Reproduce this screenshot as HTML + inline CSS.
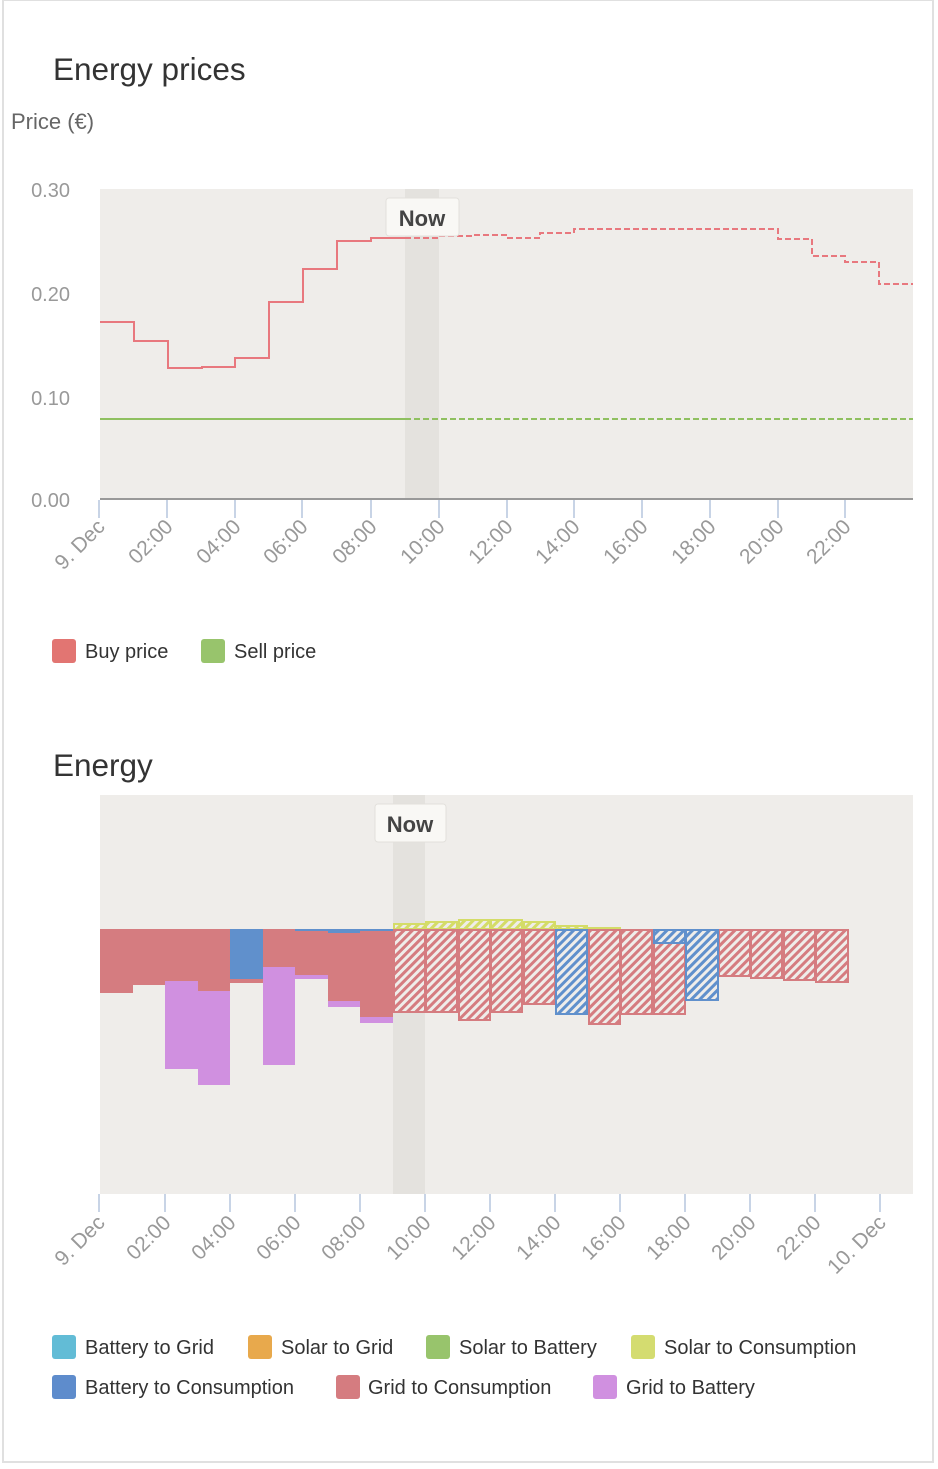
<!DOCTYPE html>
<html><head><meta charset="utf-8"><style>
body{margin:0;background:#fff;}
svg text{font-family:"Liberation Sans",sans-serif;}
</style></head><body>
<svg width="938" height="1464" viewBox="0 0 938 1464" xmlns="http://www.w3.org/2000/svg">
<defs>
<pattern id="hr" width="6" height="6" patternUnits="userSpaceOnUse" patternTransform="rotate(45)">
<rect width="6" height="6" fill="#efedea"/><rect width="3" height="6" fill="#d57c80"/></pattern>
<pattern id="hb" width="6" height="6" patternUnits="userSpaceOnUse" patternTransform="rotate(45)">
<rect width="6" height="6" fill="#efedea"/><rect width="3" height="6" fill="#6090cc"/></pattern>
<pattern id="hy" width="6" height="6" patternUnits="userSpaceOnUse" patternTransform="rotate(45)">
<rect width="6" height="6" fill="#efedea"/><rect width="3" height="6" fill="#d4dc68"/></pattern>
</defs>
<rect x="3" y="0" width="930" height="1462" fill="#fff" stroke="#e0e0e0" stroke-width="2"/>
<text x="53" y="80" font-size="31.5" fill="#333">Energy prices</text>
<text x="11" y="129" font-size="22" fill="#666">Price (€)</text>
<rect x="100" y="189" width="813" height="310" fill="#efedea"/>
<rect x="405" y="189" width="34" height="310" fill="#e4e2de"/>
<g font-size="20" fill="#999" text-anchor="end">
<text x="70" y="197">0.30</text><text x="70" y="301">0.20</text><text x="70" y="405">0.10</text><text x="70" y="507">0.00</text></g>
<line x1="100" y1="419" x2="405" y2="419" stroke="#8fc060" stroke-width="2"/>
<line x1="405" y1="419" x2="913" y2="419" stroke="#8fc060" stroke-width="2" stroke-dasharray="6,3"/>
<path d="M100,322 H134 V341 H168 V368 H202 V367 H235 V358 H269 V302 H303 V269 H337 V241 H371 V238 H405" fill="none" stroke="#e8787e" stroke-width="2"/>
<path d="M405,238 H439 V236 H473 V235 H507 V238 H540 V233 H574 V229 H778 V239 H812 V256 H845 V262 H879 V284 H913" fill="none" stroke="#e8787e" stroke-width="2" stroke-dasharray="6,3"/>
<line x1="100" y1="499" x2="913" y2="499" stroke="#999" stroke-width="2"/>
<g stroke="#c8d4e6" stroke-width="2">
<line x1="99" y1="500" x2="99" y2="518"/><line x1="167" y1="500" x2="167" y2="518"/><line x1="235" y1="500" x2="235" y2="518"/><line x1="302" y1="500" x2="302" y2="518"/><line x1="371" y1="500" x2="371" y2="518"/><line x1="439" y1="500" x2="439" y2="518"/><line x1="507" y1="500" x2="507" y2="518"/><line x1="574" y1="500" x2="574" y2="518"/><line x1="642" y1="500" x2="642" y2="518"/><line x1="710" y1="500" x2="710" y2="518"/><line x1="778" y1="500" x2="778" y2="518"/><line x1="845" y1="500" x2="845" y2="518"/></g>
<g font-size="21" fill="#999" text-anchor="end">
<text transform="translate(106,528) rotate(-45)">9. Dec</text>
<text transform="translate(174,528) rotate(-45)">02:00</text>
<text transform="translate(242,528) rotate(-45)">04:00</text>
<text transform="translate(309,528) rotate(-45)">06:00</text>
<text transform="translate(378,528) rotate(-45)">08:00</text>
<text transform="translate(446,528) rotate(-45)">10:00</text>
<text transform="translate(514,528) rotate(-45)">12:00</text>
<text transform="translate(581,528) rotate(-45)">14:00</text>
<text transform="translate(649,528) rotate(-45)">16:00</text>
<text transform="translate(717,528) rotate(-45)">18:00</text>
<text transform="translate(785,528) rotate(-45)">20:00</text>
<text transform="translate(852,528) rotate(-45)">22:00</text></g>
<rect x="386" y="198" width="73" height="38" rx="3" fill="#f9f8f5" stroke="#e2e0dc"/>
<text x="422" y="226" font-size="22" font-weight="bold" fill="#444" text-anchor="middle">Now</text>
<rect x="52" y="639" width="24" height="24" rx="3" fill="#e27572"/>
<text x="85" y="658" font-size="20" fill="#333">Buy price</text>
<rect x="201" y="639" width="24" height="24" rx="3" fill="#98c46c"/>
<text x="234" y="658" font-size="20" fill="#333">Sell price</text>

<text x="53" y="776" font-size="31.5" fill="#333">Energy</text>
<rect x="100" y="795" width="813" height="399" fill="#efedea"/>
<rect x="393" y="795" width="32" height="399" fill="#e4e2de"/>
<g fill="#d57c80">
<rect x="100" y="929" width="33" height="64"/><rect x="133" y="929" width="32" height="56"/>
<rect x="165" y="929" width="33" height="52"/><rect x="198" y="929" width="32" height="62"/>
<rect x="230" y="979" width="33" height="4"/><rect x="263" y="929" width="32" height="38"/>
<rect x="295" y="931" width="33" height="44"/><rect x="328" y="933" width="32" height="68"/>
<rect x="360" y="931" width="33" height="86"/></g>
<g fill="#6090cc"><rect x="230" y="929" width="33" height="50"/><rect x="295" y="929" width="33" height="2"/><rect x="328" y="929" width="32" height="4"/><rect x="360" y="929" width="33" height="2"/></g>
<g fill="#d090e0">
<rect x="165" y="981" width="33" height="88"/><rect x="198" y="991" width="32" height="94"/>
<rect x="263" y="967" width="32" height="98"/><rect x="295" y="975" width="33" height="4"/>
<rect x="328" y="1001" width="32" height="6"/><rect x="360" y="1017" width="33" height="6"/></g>
<g stroke-width="2">
<g fill="url(#hy)" stroke="#d4dc68">
<rect x="394" y="924" width="31" height="5"/><rect x="426" y="922" width="31" height="7"/><rect x="459" y="920" width="31" height="9"/><rect x="491" y="920" width="31" height="9"/><rect x="524" y="922" width="31" height="7"/><rect x="556" y="926" width="31" height="3"/><rect x="589" y="928" width="31" height="1"/></g>
<g fill="url(#hr)" stroke="#d57c80">
<rect x="394" y="930" width="31" height="82"/><rect x="426" y="930" width="31" height="82"/><rect x="459" y="930" width="31" height="90"/><rect x="491" y="930" width="31" height="82"/><rect x="524" y="930" width="31" height="74"/><rect x="589" y="930" width="31" height="94"/><rect x="621" y="930" width="31" height="84"/><rect x="654" y="943" width="31" height="71"/><rect x="719" y="930" width="31" height="46"/><rect x="751" y="930" width="31" height="48"/><rect x="784" y="930" width="31" height="50"/><rect x="816" y="930" width="32" height="52"/></g>
<g fill="url(#hb)" stroke="#6090cc">
<rect x="556" y="930" width="31" height="84"/><rect x="654" y="930" width="31" height="13"/><rect x="686" y="930" width="32" height="70"/></g></g>
<g stroke="#c8d4e6" stroke-width="2">
<line x1="99" y1="1194" x2="99" y2="1212"/><line x1="165" y1="1194" x2="165" y2="1212"/><line x1="230" y1="1194" x2="230" y2="1212"/><line x1="295" y1="1194" x2="295" y2="1212"/><line x1="360" y1="1194" x2="360" y2="1212"/><line x1="425" y1="1194" x2="425" y2="1212"/><line x1="490" y1="1194" x2="490" y2="1212"/><line x1="555" y1="1194" x2="555" y2="1212"/><line x1="620" y1="1194" x2="620" y2="1212"/><line x1="685" y1="1194" x2="685" y2="1212"/><line x1="750" y1="1194" x2="750" y2="1212"/><line x1="815" y1="1194" x2="815" y2="1212"/><line x1="880" y1="1194" x2="880" y2="1212"/></g>
<g font-size="21" fill="#999" text-anchor="end">
<text transform="translate(106,1224) rotate(-45)">9. Dec</text>
<text transform="translate(172,1224) rotate(-45)">02:00</text>
<text transform="translate(237,1224) rotate(-45)">04:00</text>
<text transform="translate(302,1224) rotate(-45)">06:00</text>
<text transform="translate(367,1224) rotate(-45)">08:00</text>
<text transform="translate(432,1224) rotate(-45)">10:00</text>
<text transform="translate(497,1224) rotate(-45)">12:00</text>
<text transform="translate(562,1224) rotate(-45)">14:00</text>
<text transform="translate(627,1224) rotate(-45)">16:00</text>
<text transform="translate(692,1224) rotate(-45)">18:00</text>
<text transform="translate(757,1224) rotate(-45)">20:00</text>
<text transform="translate(822,1224) rotate(-45)">22:00</text>
<text transform="translate(887,1224) rotate(-45)">10. Dec</text></g>
<rect x="375" y="804" width="71" height="38" rx="3" fill="#f9f8f5" stroke="#e2e0dc"/>
<text x="410" y="832" font-size="22" font-weight="bold" fill="#444" text-anchor="middle">Now</text>
<g font-size="20" fill="#333">
<rect x="52" y="1335" width="24" height="24" rx="3" fill="#62bcd6"/><text x="85" y="1354">Battery to Grid</text>
<rect x="248" y="1335" width="24" height="24" rx="3" fill="#e8a94c"/><text x="281" y="1354">Solar to Grid</text>
<rect x="426" y="1335" width="24" height="24" rx="3" fill="#98c46c"/><text x="459" y="1354">Solar to Battery</text>
<rect x="631" y="1335" width="24" height="24" rx="3" fill="#d4dc70"/><text x="664" y="1354">Solar to Consumption</text>
<rect x="52" y="1375" width="24" height="24" rx="3" fill="#5e8ccc"/><text x="85" y="1394">Battery to Consumption</text>
<rect x="336" y="1375" width="24" height="24" rx="3" fill="#d57c80"/><text x="368" y="1394">Grid to Consumption</text>
<rect x="593" y="1375" width="24" height="24" rx="3" fill="#d090e0"/><text x="626" y="1394">Grid to Battery</text></g>
</svg>
</body></html>
